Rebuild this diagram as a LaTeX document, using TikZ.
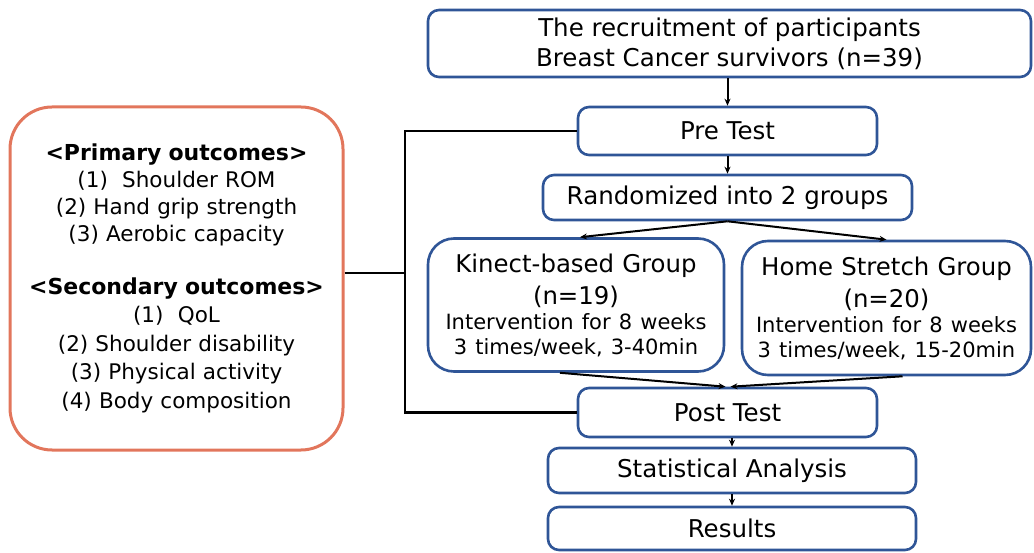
\documentclass[tikz,border=0pt]{standalone}
\usepackage{fontspec}
\setmainfont{DejaVu Sans}
\usetikzlibrary{arrows.meta,calc}
\definecolor{boxblue}{RGB}{47,85,151}
\definecolor{outorange}{RGB}{226,118,92}
\begin{document}
\begin{tikzpicture}[x=1pt,y=-1pt,
  box/.style={draw=boxblue, line width=2.6pt, rounded corners=11pt, align=center, inner sep=0pt, fill=white},
  big/.style={font=\fontsize{24.5}{30}\selectfont},
  grp/.style={box, rounded corners=26pt, text width=#1, font=\fontsize{24.4}{32}\selectfont},
  conn/.style={draw=black, line width=2pt},
  arr/.style={conn, -{Stealth[length=7pt,width=6pt]}}]
\useasboundingbox (0,0) rectangle (1034,553);
% nodes
\node[box, big, minimum width=603pt, minimum height=67pt] (rec) at (729.5,43.5)
  {The recruitment of participants\\Breast Cancer survivors (n=39)};
\node[box, big, minimum width=299pt, minimum height=48pt] (pre) at (727.5,131) {Pre Test};
\node[box, big, minimum width=369pt, minimum height=45pt] (rand) at (727.5,197.5) {Randomized into 2 groups};
\node[grp=290pt, minimum width=296pt, minimum height=133pt] (kin) at (576,305)
  {Kinect-based Group\\(n=19)\par
   \fontsize{21}{25}\selectfont Intervention for 8 weeks\\3 times/week, 3-40min\par};
\node[grp=285pt, minimum width=289pt, minimum height=134pt] (home) at (886.5,308)
  {Home Stretch Group\\(n=20)\par
   \fontsize{21}{25}\selectfont Intervention for 8 weeks\\3 times/week, 15-20min\par};
\node[box, big, minimum width=299pt, minimum height=49pt] (post) at (727.5,412.5) {Post Test};
\node[box, big, minimum width=368pt, minimum height=45pt] (stat) at (732,470.5) {Statistical Analysis};
\node[box, big, minimum width=368pt, minimum height=43pt] (res) at (732,528.5) {Results};
\node[draw=outorange, line width=3pt, rounded corners=42pt, align=center, inner sep=0pt,
      text width=325pt, minimum width=333pt, minimum height=343pt,
      font=\fontsize{21.5}{27}\selectfont] (out) at (176.5,278.5)
  {{\bfseries\fontsize{22}{27}\selectfont <Primary outcomes>}\\
   (1)\ \ Shoulder ROM\\
   (2) Hand grip strength\\
   (3) Aerobic capacity\\[26pt]
   {\bfseries\fontsize{22}{27}\selectfont <Secondary outcomes>}\\[1pt]
   (1)\ \ QoL\\[1.5pt]
   (2) Shoulder disability\\[1.5pt]
   (3) Physical activity\\[1.5pt]
   (4) Body composition\par};
% bracket
\coordinate (bx) at (405,273);
\draw[conn, line width=2.4pt] (pre.west) -| (bx) |- (post.west);
\draw[conn, line width=2.4pt] (out.east |- bx) -- (bx);
% arrows
\draw[arr] (pre.north |- rec.south) -- (pre.north);
\draw[arr] (pre.south) -- (rand.north);
\draw[arr] (rand.south) -- ([xshift=4pt]kin.north);
\draw[arr] (rand.south) -- (home.north);
\draw[arr] ([xshift=-16pt]kin.south) -- ([xshift=-2pt]post.north);
\draw[arr] ([xshift=16pt]home.south) -- ([xshift=3pt]post.north);
\draw[arr] (stat.north |- post.south) -- (stat.north);
\draw[arr] (stat.south) -- (res.north);
\end{tikzpicture}
\end{document}
